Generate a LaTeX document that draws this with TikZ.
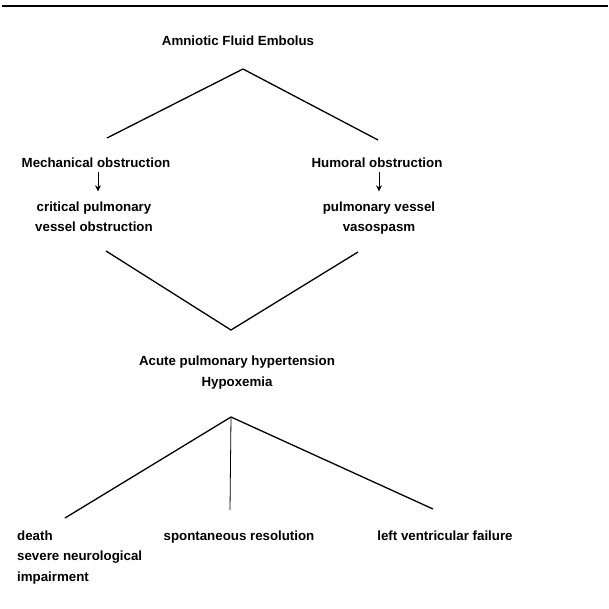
\documentclass[tikz,border=0pt]{standalone}
\usepackage{fontspec}
\setmainfont{Liberation Sans}
\usetikzlibrary{arrows.meta}

\begin{document}
\begin{tikzpicture}[x=1pt,y=-1pt,
  every node/.style={font=\bfseries\fontsize{13.3}{20.5}\selectfont, inner sep=0pt, anchor=base},
  branch/.style={line width=1.3pt},
  step arrow/.style={line width=1pt, -{Stealth[length=6pt,width=6pt]}}]
  \useasboundingbox (0,0) rectangle (608,609);
  \draw[line width=2pt] (2,6) -- (608,6);
  % top level
  \node (afe) at (238,46) {Amniotic Fluid Embolus};
  \coordinate (top) at (243,69);
  \coordinate (mechin) at (107,138);
  \coordinate (humin) at (378,140);
  \draw[branch] (mechin) -- (top) -- (humin);
  % two kinds of obstruction (multi-line nodes sit on their last baseline)
  \node (mech) at (96,168) {Mechanical obstruction};
  \node (hum) at (377,168) {Humoral obstruction};
  \node[align=center] (crit) at (94,232) {critical pulmonary\\vessel obstruction};
  \node[align=center] (spasm) at (379,232) {pulmonary vessel\\vasospasm};
  \draw[step arrow] (mech.south) ++(2,4) -- ++(0,19);
  \draw[step arrow] (hum.south) ++(2,4) -- ++(0,19);
  % join
  \coordinate (critout) at (106,251);
  \coordinate (spasmout) at (358,252);
  \coordinate (join) at (231,330);
  \draw[branch] (critout) -- (join) -- (spasmout);
  \node[align=center] (aph) at (237,386) {Acute pulmonary hypertension\\Hypoxemia};
  % outcomes
  \coordinate (fork) at (231,417);
  \node[align=left, anchor=base west] (death) at (17,581) {death\\severe neurological\\impairment};
  \node (spont) at (239,540) {spontaneous resolution};
  \node (lvf) at (445,540) {left ventricular failure};
  \coordinate (deathin) at (65,518);
  \coordinate (spontin) at (230,510);
  \coordinate (lvfin) at (433,509);
  \draw[branch] (fork) -- (deathin);
  \draw[line width=0.8pt] (fork) -- (spontin);
  \draw[branch] (fork) -- (lvfin);
\end{tikzpicture}
\end{document}
